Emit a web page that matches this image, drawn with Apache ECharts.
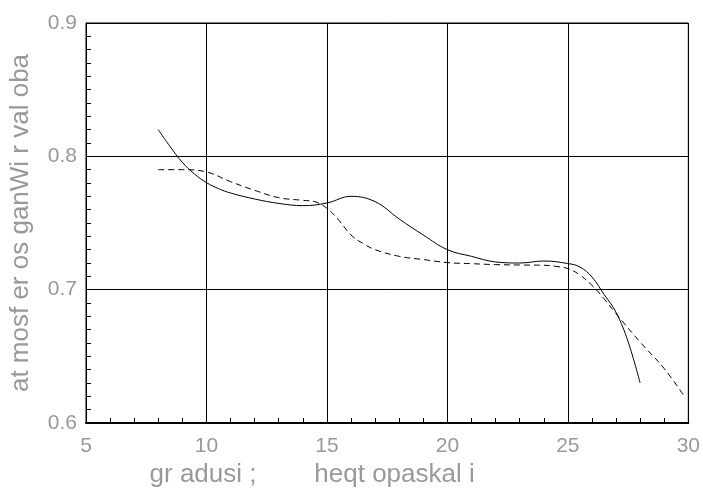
<!DOCTYPE html>
<html><head><meta charset="utf-8">
<script src="https://cdn.jsdelivr.net/npm/echarts@6/dist/echarts.min.js"></script>
<style>html,body{margin:0;padding:0;background:#fff}#c{width:703px;height:500px}</style>
</head><body><div id="c"></div>
<script>
const solidX = [8, 8.5, 9, 9.5, 10, 10.5, 11, 12, 13, 14, 15, 16, 17, 18, 19, 20, 21, 22, 23, 24, 25, 25.5, 26, 26.5, 27, 27.5, 28];
const solidY = [0.820, 0.8071, 0.7955, 0.7868, 0.7803, 0.7758, 0.7725, 0.768, 0.7647, 0.763, 0.765, 0.770, 0.766, 0.753, 0.741, 0.730, 0.725, 0.7208, 0.720, 0.7215, 0.7196, 0.717, 0.7095, 0.6965, 0.683, 0.661, 0.630];
const dashX = [8, 9, 10, 11, 12, 13, 14, 14.5, 15, 15.5, 16, 16.5, 17, 18, 19, 20, 21, 22, 23, 24, 24.5, 25, 25.5, 26, 26.5, 27, 28, 29, 29.85];
const dashY = [0.790, 0.790, 0.7883, 0.781, 0.7745, 0.769, 0.767, 0.766, 0.761, 0.752, 0.741, 0.7346, 0.730, 0.725, 0.7226, 0.7203, 0.7195, 0.7188, 0.7185, 0.7183, 0.7175, 0.7158, 0.711, 0.7033, 0.6933, 0.682, 0.6607, 0.6408, 0.6195];
const xTitle = 'gr adusi ;        heqt opaskal i';
const yTitle = 'at mosf er os ganWi r val oba';

const zip = (a, b) => a.map((v, i) => [v, b[i]]);
const chart = echarts.init(document.getElementById('c'), null, {renderer: 'canvas'});
const font = 'Liberation Sans, Arial, sans-serif';
chart.setOption({
  animation: false,
  grid: {left: 86, right: 14, top: 23, bottom: 77, show: true, borderColor: '#000', borderWidth: 1, backgroundColor: 'transparent'},
  xAxis: {
    type: 'value', min: 5, max: 30, interval: 5,
    name: xTitle, nameLocation: 'middle', nameGap: 37,
    nameTextStyle: {color: '#999', fontSize: 26, fontFamily: font, padding: [0, 150, 0, 0]},
    axisLine: {show: true, lineStyle: {color: '#000', width: 2}},
    axisTick: {show: false},
    minorTick: {show: true, splitNumber: 5, length: -5, lineStyle: {color: '#000', width: 1}},
    axisLabel: {color: '#999', fontSize: 21, fontFamily: font, margin: 13},
    splitLine: {show: true, lineStyle: {color: '#000', width: 1}}
  },
  yAxis: {
    type: 'value', min: 0.6, max: 0.9, interval: 0.1,
    name: yTitle, nameLocation: 'middle', nameGap: 52,
    nameTextStyle: {color: '#999', fontSize: 26, fontFamily: font},
    axisLine: {show: true, lineStyle: {color: '#000', width: 1}},
    axisTick: {show: false},
    minorTick: {show: true, splitNumber: 10, length: -5, lineStyle: {color: '#000', width: 1}},
    axisLabel: {color: '#999', fontSize: 21, fontFamily: font, margin: 9, formatter: v => v.toFixed(1)},
    splitLine: {show: true, lineStyle: {color: '#000', width: 1}}
  },
  series: [
    {type: 'line', data: zip(solidX, solidY), smooth: 0.4, showSymbol: false, lineStyle: {color: '#000', width: 1}},
    {type: 'line', data: zip(dashX, dashY), smooth: 0.4, showSymbol: false, lineStyle: {color: '#000', width: 1, type: [6, 4]}}
  ]
});
</script></body></html>
